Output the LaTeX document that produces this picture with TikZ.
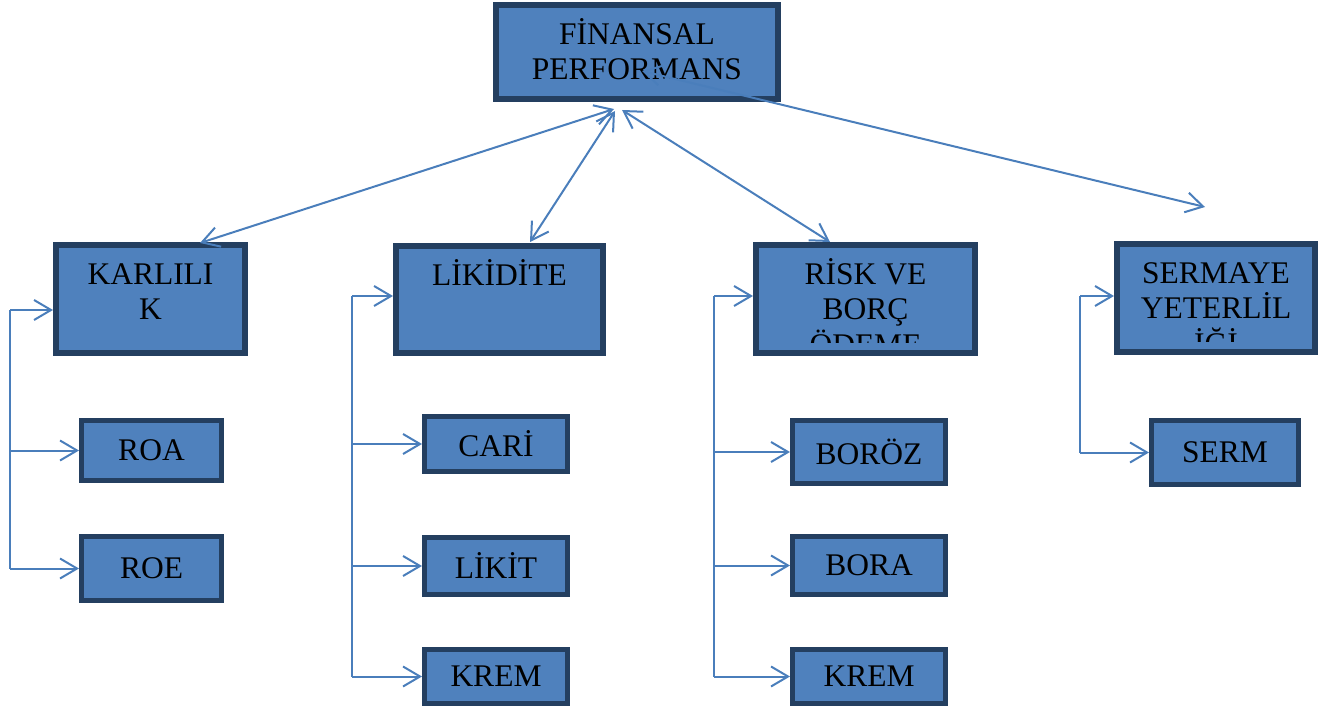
\documentclass[tikz,border=0pt]{standalone}
\usepackage{fontspec}
\setmainfont{Liberation Serif}
\usetikzlibrary{arrows.meta}
\definecolor{boxfill}{HTML}{4F81BD}
\definecolor{boxline}{HTML}{243F60}
\definecolor{connclr}{HTML}{4A7EBB}
\newcommand{\lblfont}{\fontsize{31.5}{35.5}\selectfont}
\tikzset{
 bigbox/.style={draw=boxline, fill=boxfill, line width=6pt, inner sep=0pt, path picture={
   \clip ([yshift=10pt]path picture bounding box.south west) rectangle (path picture bounding box.north east);
   \node[anchor=base, inner sep=0pt, font=\lblfont] at ([yshift=-39.5pt]path picture bounding box.north) {\parbox[t]{400pt}{\centering #1}};
 }},
 smallbox/.style={draw=boxline, fill=boxfill, line width=5pt, font=\lblfont, inner sep=0pt},
 conn/.style={draw=connclr, line width=2pt},
 arr/.style={conn, -{Straight Barb[length=17pt,width=20pt]}},
 darr/.style={conn, {Straight Barb[length=17pt,width=20pt]}-{Straight Barb[length=17pt,width=20pt]}},
}
\begin{document}
\begin{tikzpicture}[x=1pt,y=-1pt]
\useasboundingbox (0,0) rectangle (1322,708);
% top
\node[bigbox={F\.{I}NANSAL\\PERFORMANS}, minimum width=282pt, minimum height=94pt] (fin) at (637,52) {};
% level 1
\node[bigbox={KARLILI\\K}, minimum width=189pt, minimum height=108pt] (karl) at (150.5,299) {};
\node[bigbox={L\.{I}K\.{I}D\.{I}TE}, minimum width=207pt, minimum height=107pt] (lik) at (499.5,299.5) {};
\node[bigbox={R\.{I}SK VE\\BORÇ\\ÖDEME}, minimum width=219pt, minimum height=108pt] (risk) at (865.5,299) {};
\node[bigbox={SERMAYE\\YETERL\.{I}L\\\.{I}Ğ\.{I}}, minimum width=198pt, minimum height=108pt] (serm) at (1216,298) {};
% level 2
\node[smallbox, minimum width=140pt, minimum height=60pt] (roa) at (151.5,450.5) {ROA};
\node[smallbox, minimum width=140pt, minimum height=64pt] (roe) at (151.5,568.5) {ROE};
\node[smallbox, minimum width=143pt, minimum height=55pt] (cari) at (496,444) {CAR\.{I}};
\node[smallbox, minimum width=143pt, minimum height=57pt] (likit) at (496,566) {L\.{I}K\.{I}T};
\node[smallbox, minimum width=143pt, minimum height=54pt] (kreml) at (496,676.5) {KREM};
\node[smallbox, minimum width=153pt, minimum height=63pt] (boroz) at (869,452) {BORÖZ};
\node[smallbox, minimum width=153pt, minimum height=58pt] (bora) at (869,565.5) {BORA};
\node[smallbox, minimum width=153pt, minimum height=54pt] (kremr) at (869,676.5) {KREM};
\node[smallbox, minimum width=147pt, minimum height=64pt] (sermk) at (1225,452.5) {SERM};
% spines
\coordinate (ks) at (10,310);
\coordinate (ls) at (352,296);
\coordinate (rs) at (714,296);
\coordinate (ss) at (1080,296);
\coordinate (send) at (1205,207);
% top connectors
\draw[darr] ([shift={(-23,7)}]fin.south) -- ([shift={(49.5,1)}]karl.north);
\draw[darr] ([shift={(-22,9)}]fin.south) -- ([shift={(30.5,-1)}]lik.north);
\draw[darr] ([shift={(-15,8)}]fin.south) -- ([shift={(-35.5,0)}]risk.north);
\draw[darr] ([shift={(5,-31)}]fin.south) -- (send);
% karlilik
\draw[conn] (ks) -- (ks |- roe.west);
\draw[arr] (ks) -- (ks -| karl.west);
\draw[arr] (ks |- roa.west) -- (roa.west);
\draw[arr] (ks |- roe.west) -- (roe.west);
% likidite
\draw[conn] (ls) -- (ls |- kreml.west);
\draw[arr] (ls) -- (ls -| lik.west);
\draw[arr] (ls |- cari.west) -- (cari.west);
\draw[arr] (ls |- likit.west) -- (likit.west);
\draw[arr] (ls |- kreml.west) -- (kreml.west);
% risk
\draw[conn] (rs) -- (rs |- kremr.west);
\draw[arr] (rs) -- (rs -| risk.west);
\draw[arr] (rs |- boroz.west) -- (boroz.west);
\draw[arr] (rs |- bora.west) -- (bora.west);
\draw[arr] (rs |- kremr.west) -- (kremr.west);
% sermaye
\draw[conn] (ss) -- (ss |- sermk.west);
\draw[arr] (ss) -- (ss -| serm.west);
\draw[arr] (ss |- sermk.west) -- (sermk.west);
\end{tikzpicture}
\end{document}
